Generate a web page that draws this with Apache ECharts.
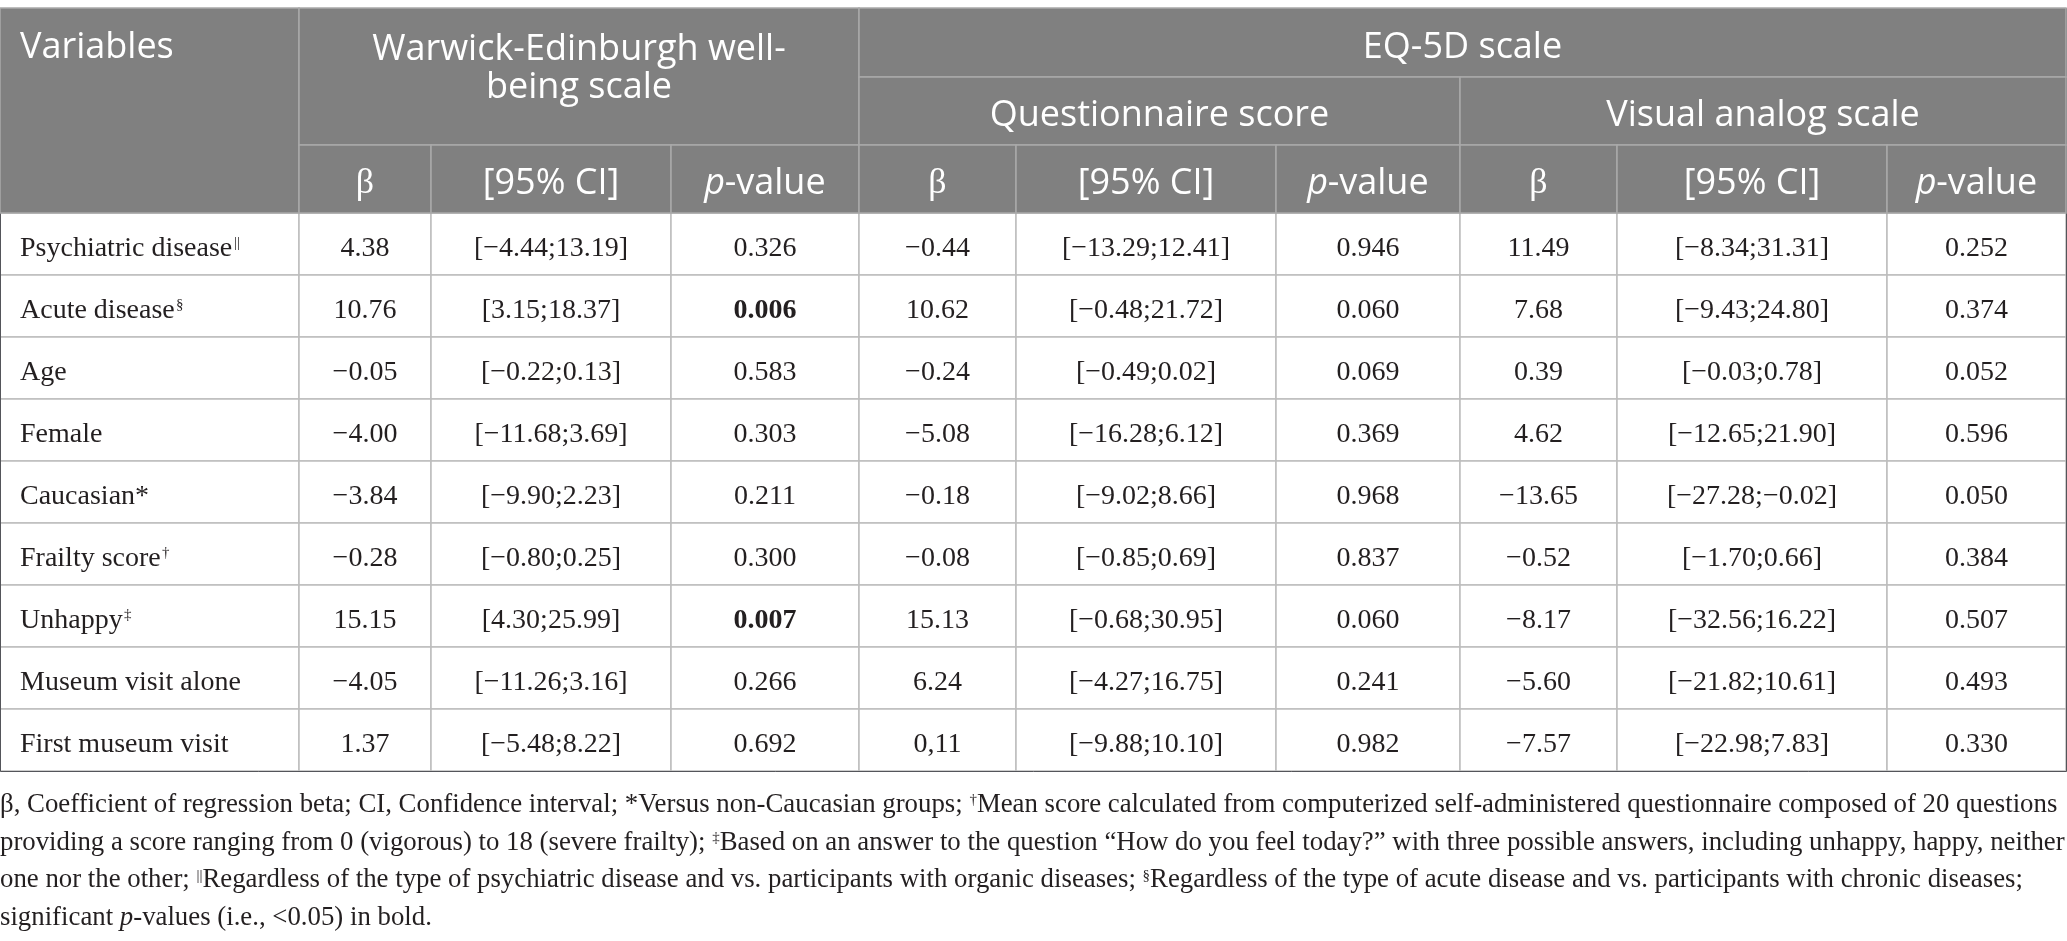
<!DOCTYPE html>
<html>
<head>
<meta charset="utf-8">
<title>Regression table</title>
<script src="https://cdn.jsdelivr.net/npm/echarts@6.0.0/dist/echarts.min.js"></script>
<style>
  html, body { margin: 0; padding: 0; background: #fff; }
  #chart { width: 2067px; height: 941px; }
</style>
</head>
<body>
<div id="chart"></div>
<script>
// table content
const variables = ['Psychiatric disease', 'Acute disease', 'Age', 'Female', 'Caucasian*',
  'Frailty score', 'Unhappy', 'Museum visit alone', 'First museum visit'];
const variableMarks = ['||', '§', '', '', '', '†', '‡', '', ''];

const webBeta = ['4.38', '10.76', '−0.05', '−4.00', '−3.84', '−0.28', '15.15', '−4.05', '1.37'];
const webCI = ['[−4.44;13.19]', '[3.15;18.37]', '[−0.22;0.13]', '[−11.68;3.69]', '[−9.90;2.23]',
  '[−0.80;0.25]', '[4.30;25.99]', '[−11.26;3.16]', '[−5.48;8.22]'];
const webP = ['0.326', '0.006', '0.583', '0.303', '0.211', '0.300', '0.007', '0.266', '0.692'];

const qsBeta = ['−0.44', '10.62', '−0.24', '−5.08', '−0.18', '−0.08', '15.13', '6.24', '0,11'];
const qsCI = ['[−13.29;12.41]', '[−0.48;21.72]', '[−0.49;0.02]', '[−16.28;6.12]', '[−9.02;8.66]',
  '[−0.85;0.69]', '[−0.68;30.95]', '[−4.27;16.75]', '[−9.88;10.10]'];
const qsP = ['0.946', '0.060', '0.069', '0.369', '0.968', '0.837', '0.060', '0.241', '0.982'];

const vasBeta = ['11.49', '7.68', '0.39', '4.62', '−13.65', '−0.52', '−8.17', '−5.60', '−7.57'];
const vasCI = ['[−8.34;31.31]', '[−9.43;24.80]', '[−0.03;0.78]', '[−12.65;21.90]', '[−27.28;−0.02]',
  '[−1.70;0.66]', '[−32.56;16.22]', '[−21.82;10.61]', '[−22.98;7.83]'];
const vasP = ['0.252', '0.374', '0.052', '0.596', '0.050', '0.384', '0.507', '0.493', '0.330'];

const groupTitles = ['Warwick-Edinburgh well-\nbeing scale', 'EQ-5D scale'];
const subGroupTitles = ['Questionnaire score', 'Visual analog scale'];
const statTitles = ['{b|β}', '[95% CI]', '{i|p}-value'];

const footnoteLines = [
  'β, Coefficient of regression beta; CI, Confidence interval; *Versus non-Caucasian groups; {s|†}Mean score calculated from computerized self-administered questionnaire composed of 20 questions',
  'providing a score ranging from 0 (vigorous) to 18 (severe frailty); {s|‡}Based on an answer to the question “How do you feel today?” with three possible answers, including unhappy, happy, neither',
  'one nor the other; {s|||}Regardless of the type of psychiatric disease and vs. participants with organic diseases; {s|§}Regardless of the type of acute disease and vs. participants with chronic diseases;',
  'significant {i|p}-values (i.e., <0.05) in bold.',
];

// layout
const colWidths = [299, 132, 240, 188, 157, 260, 184, 157, 270, 179];
const headRows = [69, 68, 68];
const bodyRowHeight = 62;
const HEAD_LH = 38;
const BODY_LH = 30;
const NUDGE = 3; // text sits a little below the cell middle

const HEAD_BG = '#808080';
const HEAD_LINE = '#a9a9a9';
const BODY_LINE = '#bdbdbd';
const TEXT = '#231f20';
const SANS = '"Open Sans", "Noto Sans", sans-serif';
const SERIF = '"Liberation Serif", "DejaVu Serif", serif';

const measureCtx = document.createElement('canvas').getContext('2d');
function textWidth(text, size, family) {
  measureCtx.font = size + 'px ' + family;
  return Math.ceil(measureCtx.measureText(text).width);
}

const headItem = { color: HEAD_BG, borderColor: HEAD_LINE, borderWidth: 1.5 };
// matrix text boxes are top-anchored: `distance` pushes them down from the cell top
function headLabel(distance, extra) {
  return Object.assign({
    position: 'insideTop',
    distance: distance,
    color: '#fff',
    fontFamily: SANS,
    fontSize: 36,
    lineHeight: HEAD_LH,
    align: 'center',
    rich: {
      b: { color: '#fff', fontFamily: SERIF, fontSize: 36, lineHeight: HEAD_LH },
      i: { color: '#fff', fontFamily: SANS, fontSize: 36, lineHeight: HEAD_LH, fontStyle: 'italic' },
    },
  }, extra);
}
function bodyLabel(extra) {
  return Object.assign({
    position: 'insideTop',
    distance: (bodyRowHeight - BODY_LH) / 2 + NUDGE,
    color: TEXT,
    fontFamily: SERIF,
    fontSize: 28,
    lineHeight: BODY_LH,
    align: 'center',
  }, extra);
}

const cells = [];
cells.push({
  coord: [0, [0, 2]],
  mergeCells: true,
  value: 'Variables',
  itemStyle: headItem,
  label: headLabel(18, { position: 'insideTopLeft', align: 'left', distance: 17, lineHeight: 42 }),
});
cells.push({ coord: [[1, 3], [0, 1]], mergeCells: true, value: groupTitles[0], itemStyle: headItem, label: headLabel(21) });
cells.push({ coord: [[4, 9], 0], mergeCells: true, value: groupTitles[1], itemStyle: headItem, label: headLabel((headRows[0] - HEAD_LH) / 2 + NUDGE) });
subGroupTitles.forEach((t, i) => {
  cells.push({ coord: [[4 + i * 3, 6 + i * 3], 1], mergeCells: true, value: t, itemStyle: headItem, label: headLabel((headRows[1] - HEAD_LH) / 2 + NUDGE) });
});
for (let g = 0; g < 3; g++) {
  statTitles.forEach((t, i) => {
    cells.push({ coord: [1 + g * 3 + i, 2], value: t, itemStyle: headItem, label: headLabel((headRows[2] - HEAD_LH) / 2 + NUDGE) });
  });
}

const columns = [webBeta, webCI, webP, qsBeta, qsCI, qsP, vasBeta, vasCI, vasP];
const nameInset = 17;
const nameLH = bodyRowHeight - 2 * nameInset + 2 * NUDGE;
variables.forEach((name, r) => {
  const y = r + headRows.length;
  const mark = variableMarks[r] ? '{s|' + variableMarks[r] + '}' : '';
  cells.push({
    coord: [0, y],
    value: '{n|' + name + '}' + mark,
    label: bodyLabel({
      position: 'insideTopLeft',
      distance: nameInset,
      align: 'left',
      lineHeight: nameLH,
      rich: {
        n: {
          color: TEXT, fontFamily: SERIF, fontSize: 28, lineHeight: nameLH,
          width: textWidth(name, 28, SERIF),
        },
        s: { color: TEXT, fontFamily: SERIF, fontSize: 15, lineHeight: 15, padding: [0, 0, 12, 1] },
      },
    }),
  });
  columns.forEach((col, c) => {
    const isP = c % 3 === 2;
    const significant = isP && parseFloat(col[r]) < 0.05;
    cells.push({
      coord: [c + 1, y],
      value: col[r],
      label: bodyLabel({ fontWeight: significant ? 'bold' : 'normal' }),
    });
  });
});

const rowHeights = headRows.concat(variables.map(() => bodyRowHeight));

const chart = echarts.init(document.getElementById('chart'));
chart.setOption({
  animation: false,
  backgroundColor: '#fff',
  title: {
    text: footnoteLines.join('\n'),
    left: 0,
    top: 786,
    padding: 0,
    textStyle: {
      color: TEXT,
      fontFamily: SERIF,
      fontSize: 26.8,
      fontWeight: 'normal',
      lineHeight: 37.7,
      rich: {
        s: { color: TEXT, fontFamily: SERIF, fontSize: 15, lineHeight: 15, padding: [0, 0, 9, 0] },
        i: { color: TEXT, fontFamily: SERIF, fontSize: 26.8, fontStyle: 'italic', lineHeight: 37.7 },
      },
    },
  },
  matrix: {
    left: 0,
    top: 8,
    width: 2066,
    height: rowHeights.reduce((a, b) => a + b, 0),
    x: {
      show: false,
      data: colWidths.map((w, i) => ({ value: 'c' + i, size: w })),
    },
    y: {
      show: false,
      data: rowHeights.map((h, i) => ({ value: 'r' + i, size: h })),
    },
    body: {
      itemStyle: { color: '#fff', borderColor: BODY_LINE, borderWidth: 1.5 },
      label: bodyLabel({}),
      data: cells,
    },
  },
});
</script>
</body>
</html>
